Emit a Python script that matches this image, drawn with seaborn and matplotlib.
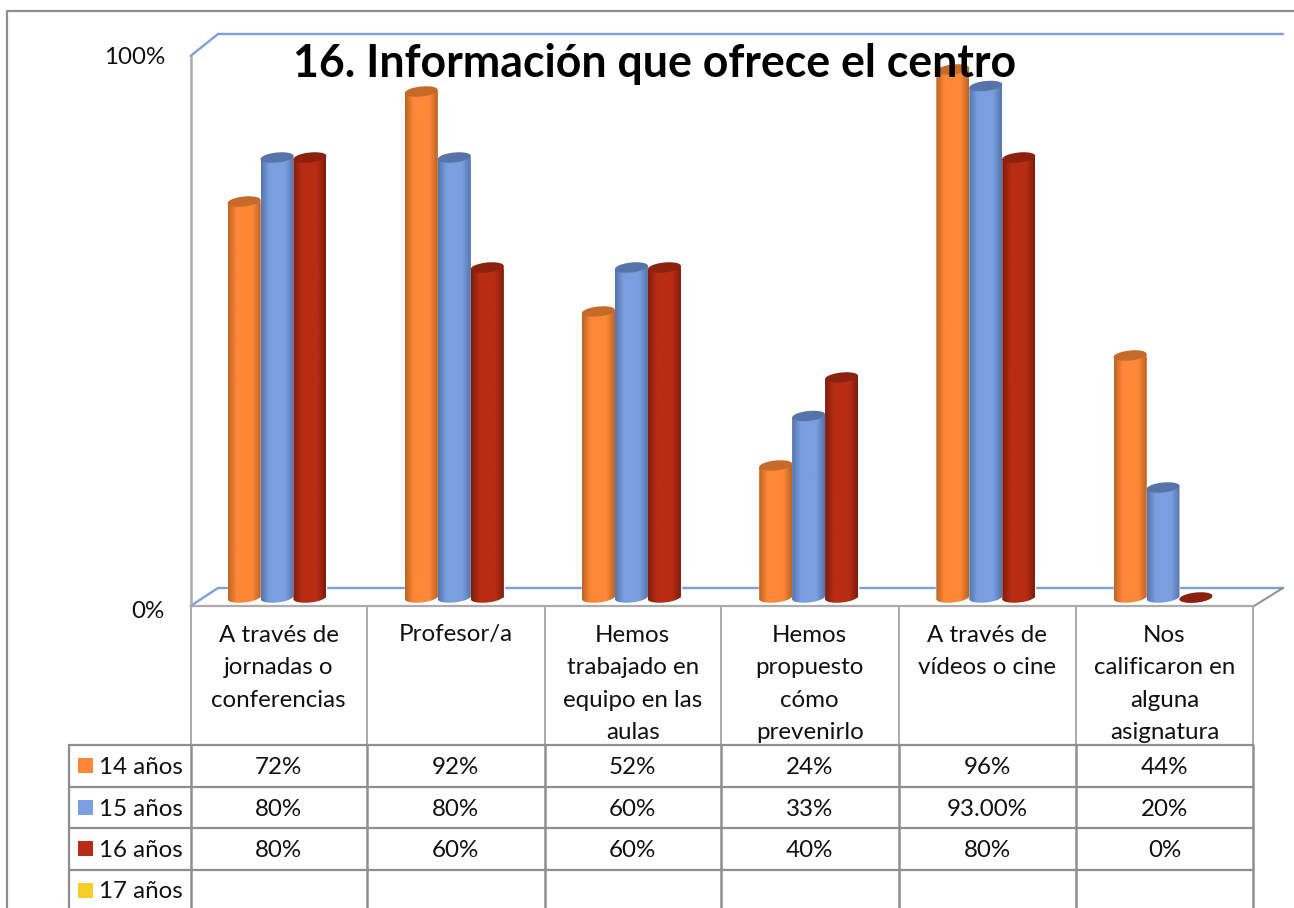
import numpy as np
import pandas as pd
import matplotlib
matplotlib.use("Agg")
import matplotlib.pyplot as plt
from matplotlib.colors import LinearSegmentedColormap
from matplotlib.patches import Polygon, Rectangle
import seaborn as sns

# ---------- data ----------
title = "16. Información que ofrece el centro"
categories = [
    "A través de\njornadas o\nconferencias",
    "Profesor/a",
    "Hemos\ntrabajado en\nequipo en las\naulas",
    "Hemos\npropuesto\ncómo\nprevenirlo",
    "A través de\nvídeos o cine",
    "Nos\ncalificaron en\nalguna\nasignatura",
]
series_names = ["14 años", "15 años", "16 años", "17 años"]
values_14 = [72, 92, 52, 24, 96, 44]
values_15 = [80, 80, 60, 33, 93, 20]
values_16 = [80, 60, 60, 40, 80, 0]
table_14 = ["72%", "92%", "52%", "24%", "96%", "44%"]
table_15 = ["80%", "80%", "60%", "33%", "93.00%", "20%"]
table_16 = ["80%", "60%", "60%", "40%", "80%", "0%"]
table_17 = ["", "", "", "", "", ""]

# ---------- style ----------
colors = ["#FF8737", "#7A9FDF", "#B72C13", "#F6CE2B"]
edge_colors = ["#BC6524", "#5575AE", "#7E1C0B"]
cap_colors = ["#C66A2A", "#5674A9", "#8C2110"]
GRAY = "#8E8E8E"
LIGHT = "#ABABAB"
BLUE = "#7D9FDD"

W, H = 1294, 908
sns.set_theme(style="white")
plt.rcParams["font.family"] = ["Lato", "DejaVu Sans"]
fig = plt.figure(figsize=(W / 100, H / 100), dpi=100, facecolor="white")

# background layer in pixel coordinates (frame, chart walls, data table)
bg = fig.add_axes([0, 0, 1, 1], zorder=0)
bg.set_xlim(0, W)
bg.set_ylim(H, 0)
bg.axis("off")

# outer frame
bg.plot([6.5, 6.5, W], [H, 10.5, 10.5], color=GRAY, lw=1.6, solid_capstyle="butt")

# 3-D box
bg.plot([190.5, 218, 1283], [56, 34, 34], color=BLUE, lw=1.7)
bg.plot([190.5, 218, 1283], [606, 588, 588], color=BLUE, lw=1.7)
bg.plot([1254, 1283], [606, 588], color=GRAY, lw=1.4)
bg.plot([190.5, 190.5], [56, 606], color=LIGHT, lw=1.8)

# data table
col_x = [190.5, 367, 544.5, 721, 898.5, 1076, 1253]
row_y = [745, 787, 828, 870]
text_y = [767.5, 809.5, 850.5, 892]
swatch_y = [766, 808, 849, 891]
bg.plot([190.5, 1253], [606, 606], color=LIGHT, lw=1.6)
for x in col_x:
    bg.plot([x, x], [606, 745], color=LIGHT, lw=1.4)
    bg.plot([x, x], [745, H], color=GRAY, lw=1.8)
bg.plot([68.5, 68.5], [745, H], color=GRAY, lw=1.6)
for y in row_y:
    bg.plot([68.5, 1253], [y, y], color=GRAY, lw=1.6)

FS = 17.4
txt = dict(color="#111111", fontsize=FS, ha="center", va="center")
col_c = [(a + b) / 2 for a, b in zip(col_x[:-1], col_x[1:])]
line_h = 32.6
for cx, cat in zip(col_c, categories):
    for k, line in enumerate(cat.split("\n")):
        bg.text(cx, 635 + k * line_h, line, **txt)

rows = [table_14, table_15, table_16, table_17]
for yc, ys, name, col, cells in zip(text_y, swatch_y, series_names, colors, rows):
    bg.add_patch(Rectangle((78, ys - 8), 15, 15, facecolor=col, edgecolor="none"))
    bg.text(183, yc, name, color="#111111", fontsize=FS, ha="right", va="center")
    for cx, cell in zip(col_c, cells):
        bg.text(cx, yc, cell, **txt)

bg.text(165, 58, "100%", color="#111111", fontsize=FS, ha="right", va="center")
bg.text(165, 611, "0%", color="#111111", fontsize=FS, ha="right", va="center")

# ---------- bars ----------
df = pd.DataFrame({
    "categoria": categories * 3,
    "serie": sum([[n] * 6 for n in series_names[:3]], []),
    "valor": values_14 + values_15 + values_16,
})
x0, x1 = 188.4, 1251.6
PX = 5.5          # pixels per percentage point
y_zero, y_bot, y_top = 597.5, 612, 30
ax = fig.add_axes([x0 / W, 1 - y_bot / H, (x1 - x0) / W, (y_bot - y_top) / H], zorder=1)
sns.barplot(data=df, x="categoria", y="valor", hue="serie", order=categories,
            hue_order=series_names[:3], palette=colors[:3], width=0.558, gap=0,
            legend=False, ax=ax, saturation=1)
ax.axis("off")
ax.patch.set_alpha(0)

b = 5.0 / PX      # cap half height
k = 1.6 / PX      # cap tilt
t_low = np.linspace(np.pi, 2 * np.pi, 40)
t_all = np.linspace(0, 2 * np.pi, 80)
for s, cont in enumerate(ax.containers):
    cmap = LinearSegmentedColormap.from_list(f"c{s}", [edge_colors[s], colors[s]])
    grad_x = np.linspace(0, 1, 64)
    # dark at both rims, brightest around the middle of the cylinder
    shade = np.clip(np.minimum(grad_x, 1 - grad_x) / 0.26, 0, 1)
    grad = cmap(shade)[None, :, :3]
    for bar in cont:
        xl, w, v = bar.get_x(), bar.get_width(), bar.get_height()
        xc = xl + w / 2
        body = np.r_[
            np.c_[xc + w / 2 * np.cos(t_low), b * np.sin(t_low) + k * np.cos(t_low)],
            [[xl + w, v + k], [xl, v - k]],
        ]
        clip = Polygon(body, closed=True, transform=ax.transData, facecolor="none", edgecolor="none")
        ax.add_patch(clip)
        im = ax.imshow(grad, extent=(xl, xl + w, -b - k - 1, v + k + 1), aspect="auto",
                       zorder=3 + s, interpolation="bilinear", origin="lower")
        im.set_clip_path(clip)
        cap = np.c_[xc + w / 2 * np.cos(t_all), v + b * np.sin(t_all) + k * np.cos(t_all)]
        ax.add_patch(Polygon(cap, closed=True, facecolor=cap_colors[s], edgecolor="none",
                             zorder=3.5 + s, clip_on=False))
ax.set_xlim(-0.5, 5.5)
ax.set_ylim(-(y_bot - y_zero) / PX, (y_zero - y_top) / PX)

# title above the bars
fig.text(654.5 / W, 1 - 64 / H, title, fontsize=32.1, fontweight="bold", color="black",
         ha="center", va="center", zorder=5)

fig.savefig("out.png", dpi=100)
